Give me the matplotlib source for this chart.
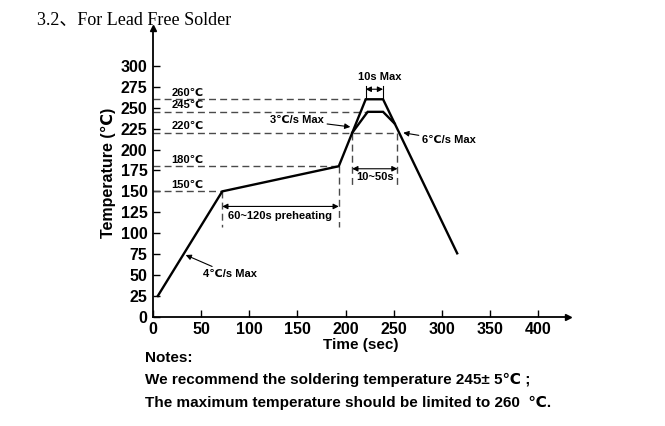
import matplotlib
matplotlib.use('Agg')
import matplotlib.pyplot as plt

plt.rcParams['font.family'] = ['Liberation Sans', 'DejaVu Sans']
plt.rcParams['font.weight'] = 'bold'

# Reflow profile (outer = max limit, inner = recommended)
outer_time = [5, 72, 193, 221, 239, 316]
outer_temp = [25, 150, 180, 260, 260, 76]
inner_time = [207, 223, 239, 251]
inner_temp = [220, 245, 245, 231]

x_ticks = [0, 50, 100, 150, 200, 250, 300, 350, 400]
y_ticks = [0, 25, 50, 75, 100, 125, 150, 175, 200, 225, 250, 275, 300]

# reference levels: (temperature, dashed line end time, label)
levels = [(260, 221, '260℃'), (245, 223, '245℃'), (220, 254, '220℃'),
          (180, 193, '180℃'), (150, 72, '150℃')]

fig = plt.figure(figsize=(6.65, 4.26), dpi=100)
ax = fig.add_axes([0.230, 0.256, 0.624, 0.678])

dash = dict(color='#4a4a4a', lw=1.0, ls=(0, (5, 3)))

for temp, t_end, lab in levels:
    ax.plot([0, t_end], [temp, temp], **dash)
    ax.text(19, temp + 2, lab, fontsize=8, ha='left', va='bottom')

# vertical dashed markers
ax.plot([72, 72], [150, 107], **dash)
ax.plot([193, 193], [180, 107], **dash)
ax.plot([207, 207], [220, 158], **dash)
ax.plot([254, 254], [220, 158], **dash)
ax.plot([221, 221], [260, 276], color='black', lw=0.8)
ax.plot([239, 239], [260, 276], color='black', lw=0.8)

ax.plot(outer_time, outer_temp, color='black', lw=1.7, solid_joinstyle='miter')
ax.plot(inner_time, inner_temp, color='black', lw=1.7, solid_joinstyle='miter')

dbl = dict(arrowstyle='<|-|>', color='black', lw=0.8, mutation_scale=8,
           shrinkA=0, shrinkB=0)
one = dict(arrowstyle='-|>', color='black', lw=0.8, mutation_scale=8,
           shrinkA=0, shrinkB=0)

ax.annotate('', xy=(193, 132), xytext=(72, 132), arrowprops=dbl)
ax.text(78, 121, '60~120s preheating', fontsize=8, ha='left', va='center')

ax.annotate('', xy=(254, 177), xytext=(207, 177), arrowprops=dbl)
ax.text(230.5, 167, '10~50s', fontsize=8, ha='center', va='center')

ax.annotate('', xy=(239, 272), xytext=(221, 272), arrowprops=dbl)
ax.text(236, 287, '10s Max', fontsize=8, ha='center', va='center')

ax.annotate('3℃/s Max', xy=(205, 227), xytext=(178, 235), fontsize=8,
            ha='right', va='center', arrowprops=one)
ax.annotate('6℃/s Max', xy=(260, 220), xytext=(279, 211), fontsize=8,
            ha='left', va='center', arrowprops=one)
ax.annotate('4℃/s Max', xy=(34, 74), xytext=(52, 51), fontsize=8,
            ha='left', va='center', arrowprops=one)

ax.set_xlim(0, 431)
ax.set_ylim(0, 345)
ax.set_xticks(x_ticks)
ax.set_yticks(y_ticks)
ax.tick_params(direction='in', length=5, width=1, labelsize=11.5, pad=4)
ax.tick_params(axis='x', pad=3.5)
for lab in ax.get_xticklabels() + ax.get_yticklabels():
    lab.set_fontweight('bold')

for pos in ['top', 'right']:
    ax.spines[pos].set_visible(False)
for pos in ['left', 'bottom']:
    ax.spines[pos].set_linewidth(1.3)

# arrow heads on the axes
ax.plot(1, 0, '>', color='black', ms=5, transform=ax.transAxes, clip_on=False)
ax.plot(0, 1, '^', color='black', ms=5, transform=ax.transAxes, clip_on=False)

ax.set_xlabel('Time (sec)', fontsize=11, fontweight='bold', labelpad=1)
ax.set_ylabel('Temperature (℃)', fontsize=11.5, fontweight='bold', labelpad=3)

fig.text(0.055, 0.953, '3.2、For Lead Free Solder', fontsize=13, fontweight='normal',
         family=['Liberation Serif', 'Noto Sans CJK SC'], va='center', ha='left')

notes = ['Notes:',
         'We recommend the soldering temperature 245± 5℃ ;',
         'The maximum temperature should be limited to 260  ℃.']
for i, line in enumerate(notes):
    fig.text(0.218, 0.160 - i * 0.053, line, fontsize=11, fontweight='bold',
             va='center', ha='left')

fig.savefig('out.png', dpi=100)
